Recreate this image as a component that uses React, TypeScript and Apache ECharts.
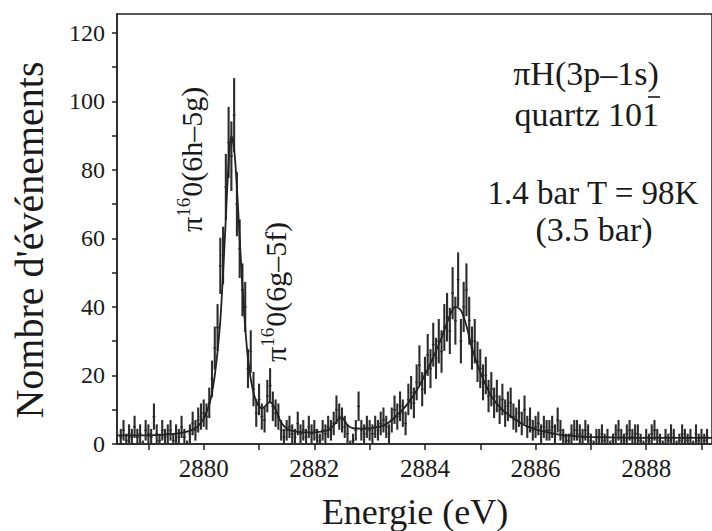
import React, { useEffect, useRef } from "react";
import * as echarts from "echarts";

// Spectrum: counts per energy bin (bin centres start at binStart, spaced binWidth eV)
const binStart = 2878.5;
const binWidth = 0.05;
const counts: number[] = [
  2, 4, 1, 3, 2, 5, 2, 3, 0, 4,
  3, 2, 8, 3, 1, 4, 2, 3, 4, 1,
  3, 2, 5, 2, 0, 3, 6, 4, 7, 8,
  9, 8, 12, 19, 28, 34, 52, 55, 75, 88,
  84, 96, 70, 57, 45, 40, 22, 27, 16, 9,
  13, 8, 7, 14, 17, 11, 9, 8, 4, 2,
  4, 5, 3, 2, 6, 3, 4, 2, 5, 3,
  4, 2, 1, 4, 3, 5, 4, 6, 10, 8,
  7, 5, 3, 0, 1, 4, 11, 4, 3, 5,
  4, 3, 5, 4, 6, 7, 5, 3, 7, 10,
  8, 11, 9, 6, 13, 15, 12, 18, 23, 16,
  20, 26, 22, 29, 25, 30, 27, 34, 37, 33,
  44, 36, 48, 30, 40, 45, 36, 28, 30, 24,
  22, 18, 20, 14, 16, 12, 14, 10, 13, 9,
  11, 12, 8, 7, 9, 6, 10, 5, 7, 4,
  5, 6, 3, 5, 4, 4, 5, 3, 7, 4,
  2, 1, 1, 3, 4, 4, 3, 2, 4, 3,
  1, 0, 2, 2, 3, 1, 2, 0, 1, 3,
  4, 2, 1, 3, 4, 2, 3, 3, 1, 0,
  2, 1, 3, 4, 2, 1, 0, 2, 1, 3,
  2, 0, 1, 3, 2, 1, 2, 0, 3, 1,
  2, 1, 2,
];

// Fitted curve (energy, counts)
const fitEnergy: number[] = [
  2878.43, 2879.0, 2879.5, 2879.7, 2879.8, 2879.9, 2880.0, 2880.1, 2880.15, 2880.2,
  2880.25, 2880.3, 2880.35, 2880.4, 2880.45, 2880.5, 2880.55, 2880.6, 2880.65, 2880.7,
  2880.75, 2880.8, 2880.85, 2880.9, 2880.95, 2881.0, 2881.05, 2881.1, 2881.15, 2881.2,
  2881.25, 2881.3, 2881.35, 2881.4, 2881.5, 2881.6, 2881.8, 2882.0, 2882.2, 2882.3,
  2882.4, 2882.45, 2882.5, 2882.55, 2882.6, 2882.7, 2882.9, 2883.1, 2883.3, 2883.5,
  2883.7, 2883.9, 2884.1, 2884.3, 2884.45, 2884.55, 2884.65, 2884.75, 2884.85, 2885.0,
  2885.2, 2885.4, 2885.6, 2885.8, 2886.0, 2886.2, 2886.5, 2886.8, 2887.0, 2888.0,
  2889.2,
];
const fitCounts: number[] = [
  2.5, 2.5, 3.0, 3.6, 4.2, 5.3, 7.5, 11.5, 15, 20,
  27, 36, 50, 66, 82, 90, 86, 75, 60, 46,
  34, 25, 19, 15, 12.5, 11, 10.5, 10.8, 11.8, 12.2,
  11.5, 10, 8, 6.3, 4.5, 3.8, 3.4, 3.4, 3.8, 4.6,
  6.5, 7.5, 7.6, 6.8, 5.5, 4.6, 4.5, 4.8, 5.8, 8.5,
  12, 17, 23.5, 31, 37.5, 40, 39, 34.5, 28, 21,
  14, 10, 7.5, 5.5, 4.3, 3.5, 2.6, 2.2, 2.0, 1.8,
  1.8,
];

const xTickValues = [2879, 2880, 2881, 2882, 2883, 2884, 2885, 2886, 2887, 2888, 2889];
const xLabelValues = [2880, 2882, 2884, 2886, 2888];
const yTickValues = [0, 10, 20, 30, 40, 50, 60, 70, 80, 90, 100, 110, 120];
const yLabelValues = [0, 20, 40, 60, 80, 100, 120];

const FONT = "'Liberation Serif', 'DejaVu Serif', serif";
const INK = "#1a1a1a";

export default function App() {
  const ref = useRef<HTMLDivElement | null>(null);

  useEffect(() => {
    if (!ref.current) return;
    const chart = echarts.init(ref.current, undefined, { renderer: "svg" });

    const points = counts.map((v, i) => {
      const e = binStart + i * binWidth;
      return [e, v, Math.sqrt(v) + 1];
    });
    const fit = fitEnergy.map((e, i) => [e, fitCounts[i]]);

    const supRich = {
      m: { fontFamily: FONT, fontSize: 30, fill: INK, lineHeight: 34 },
      s: { fontFamily: FONT, fontSize: 19, fill: INK, lineHeight: 34, verticalAlign: "top", padding: [0, 1, 12, 0] },
    };

    chart.setOption({
      animation: false,
      backgroundColor: "#ffffff",
      grid: {
        left: 117,
        right: -2,
        top: 14,
        bottom: 87,
        show: true,
        borderColor: "#222",
        borderWidth: 1.5,
        containLabel: false,
      },
      xAxis: {
        type: "value",
        min: 2878.432,
        max: 2889.19,
        splitLine: { show: false },
        axisLine: { show: true, onZero: false, lineStyle: { color: "#333", width: 2 } },
        axisTick: { show: true, inside: false, length: 6, customValues: xTickValues, lineStyle: { color: "#222", width: 1.5 } },
        axisLabel: {
          customValues: xLabelValues,
          formatter: (v: number) => String(v),
          fontFamily: FONT,
          fontSize: 25,
          color: INK,
          margin: 12,
        },
      },
      yAxis: {
        type: "value",
        min: 0,
        max: 125.5,
        splitLine: { show: false },
        axisLine: { show: true, lineStyle: { color: "#222", width: 1.5 } },
        axisTick: { show: true, inside: false, length: 5, customValues: yTickValues, lineStyle: { color: "#222", width: 1.5 } },
        axisLabel: {
          customValues: yLabelValues,
          formatter: (v: number) => String(v),
          fontFamily: FONT,
          fontSize: 24,
          color: INK,
          margin: 12,
        },
      },
      series: [
        {
          type: "custom",
          data: points,
          clip: true,
          z: 2,
          renderItem: (params: any, api: any) => {
            const x = api.value(0);
            const v = api.value(1);
            const er = api.value(2);
            const top = api.coord([x, v + er]);
            const bot = api.coord([x, Math.max(v - er, -0.8)]);
            const c = api.coord([x, v]);
            const l = api.coord([x - 0.025, v]);
            const r = api.coord([x + 0.025, v]);
            return {
              type: "group",
              children: [
                {
                  type: "line",
                  shape: { x1: top[0], y1: top[1], x2: bot[0], y2: bot[1] },
                  style: { stroke: "#2c2c2c", lineWidth: 2.1 },
                },
                {
                  type: "line",
                  shape: { x1: l[0], y1: c[1], x2: r[0], y2: c[1] },
                  style: { stroke: "#2c2c2c", lineWidth: 1.5 },
                },
              ],
            };
          },
        },
        {
          type: "line",
          data: fit,
          smooth: 0.35,
          symbol: "none",
          z: 3,
          lineStyle: { color: "#222", width: 1.8 },
        },
      ],
      graphic: [
        {
          type: "text",
          x: 29,
          y: 240,
          rotation: Math.PI / 2,
          style: {
            text: "Nombre d'événements",
            fontFamily: FONT,
            fontSize: 40,
            fill: INK,
            align: "center",
            verticalAlign: "middle",
          },
        },
        {
          type: "text",
          x: 415,
          y: 512,
          style: {
            text: "Energie (eV)",
            fontFamily: FONT,
            fontSize: 36,
            fill: INK,
            align: "center",
            verticalAlign: "middle",
          },
        },
        {
          type: "text",
          x: 586,
          y: 73,
          style: { text: "πH(3p–1s)", fontFamily: FONT, fontSize: 34, fill: INK, align: "center", verticalAlign: "middle" },
        },
        {
          type: "text",
          x: 659,
          y: 114,
          style: { text: "quartz 101", fontFamily: FONT, fontSize: 34, fill: INK, align: "right", verticalAlign: "middle" },
        },
        {
          type: "line",
          shape: { x1: 648, y1: 97, x2: 660, y2: 97 },
          style: { stroke: INK, lineWidth: 1.6 },
        },
        {
          type: "text",
          x: 593,
          y: 193,
          style: { text: "1.4 bar T = 98K", fontFamily: FONT, fontSize: 33, fill: INK, align: "center", verticalAlign: "middle" },
        },
        {
          type: "text",
          x: 594,
          y: 229,
          style: { text: "(3.5 bar)", fontFamily: FONT, fontSize: 34, fill: INK, align: "center", verticalAlign: "middle" },
        },
        {
          type: "text",
          x: 191,
          y: 232,
          rotation: Math.PI / 2,
          style: {
            text: "{m|π}{s|16}{m|0(6h–5g)}",
            align: "left",
            verticalAlign: "middle",
            rich: supRich,
          },
        },
        {
          type: "text",
          x: 275,
          y: 362,
          rotation: Math.PI / 2,
          style: {
            text: "{m|π}{s|16}{m|0(6g–5f)}",
            align: "left",
            verticalAlign: "middle",
            rich: supRich,
          },
        },
      ],
    });

    return () => chart.dispose();
  }, []);

  return (
    <div
      ref={ref}
      style={{ position: "fixed", left: 0, top: 0, width: 712, height: 531, background: "#fff" }}
    />
  );
}
